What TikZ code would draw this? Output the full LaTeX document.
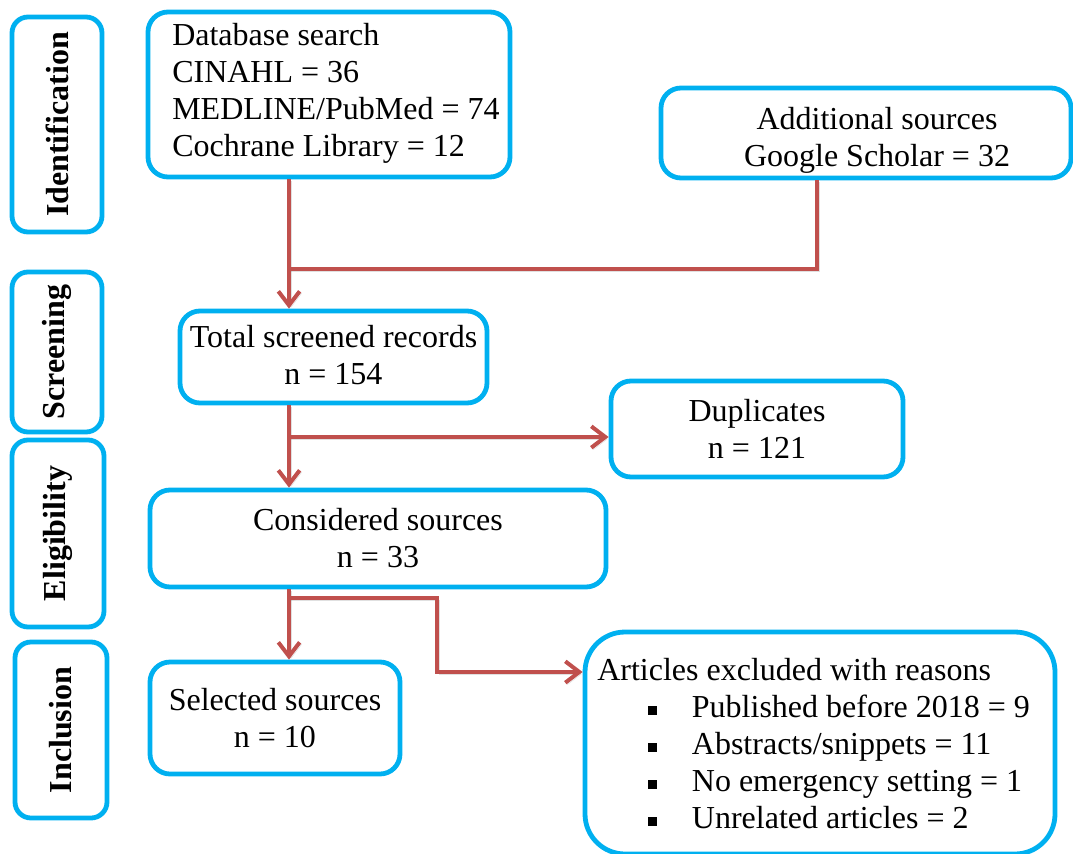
\documentclass[tikz,border=0pt]{standalone}
\usepackage{fontspec}
\setmainfont{Liberation Serif}
\usetikzlibrary{arrows.meta}
\definecolor{boxblue}{HTML}{00B0F0}
\definecolor{linkred}{HTML}{C0504D}
\newcommand{\flowfont}{\fontsize{24pt}{27.75pt}\selectfont}
\newcommand{\exclitem}[1]{\hspace*{38pt}\rule[2.3pt]{7pt}{7pt}\hspace*{26pt}#1}
\tikzset{
  box/.style={draw=boxblue, line width=3.6pt, rounded corners=15pt, fill=white,
    font=\flowfont, align=center, inner sep=0pt},
  boxtext/.style={font=\flowfont, inner sep=0pt},
  stage/.style={box, rounded corners=12pt},
  stagetext/.style={font=\flowfont\bfseries, rotate=90},
  sz/.style 2 args={minimum width=#1*0.75pt, minimum height=#2*0.75pt},
  link/.style={draw=linkred, line width=3pt,
    preaction={draw=black, opacity=0.12, transform canvas={shift={(1.5pt,-1.5pt)}}}},
  flow/.style={link, -{Straight Barb[length=10.5pt, width=16pt]}},
}
\begin{document}
\begin{tikzpicture}[x=0.75pt, y=-0.75pt]
\useasboundingbox (0,0) rectangle (1073,853);

% stage labels on the left
\node[stage, sz={90}{215}] (sid) at (57,124.5) {};
\node[stagetext] (tid) at (sid.center) {Identification};
\node[stage, sz={90}{160}] (ssc) at (57,352) {};
\node[stagetext] (tsc) at (ssc.center) {Screening};
\node[stage, sz={92}{187}] (sel) at (58,533.5) {};
\node[stagetext] (tel) at (sel.center) {Eligibility};
\node[stage, sz={92}{176}] (sin) at (61,730) {};
\node[stagetext] (tin) at (sin.center) {Inclusion};

% flow boxes
\node[box, sz={362}{165}] (db) at (329,94.5) {};
\node[boxtext, align=left, anchor=west] (dbtext) at (172,93)
  {Database search\\CINAHL = 36\\MEDLINE/PubMed = 74\\Cochrane Library = 12};
\node[box, sz={410}{90}] (add) at (866,133) {};
\node[boxtext, align=center] (addtext) at (877,140)
  {Additional sources\\Google Scholar = 32};
\node[box, sz={307}{92}] (tsr) at (333.5,357) {};
\node[boxtext, align=center] (tsrtext) at (333.5,355) {Total screened records\\n = 154};
\node[box, sz={292}{96}] (dup) at (757,429) {Duplicates\\n = 121};
\node[box, sz={456}{97}] (cons) at (378,538.5) {Considered sources\\n = 33};
\node[box, sz={250}{112}] (selsrc) at (275,718) {Selected sources\\n = 10};
\node[box, sz={470}{222}, rounded corners=30pt] (excl) at (820,743) {};
\node[boxtext, align=left, anchor=west] (excltext) at (597,744)
  {Articles excluded with reasons\\
   \exclitem{Published before 2018 = 9}\\
   \exclitem{Abstracts/snippets = 11}\\
   \exclitem{No emergency setting = 1}\\
   \exclitem{Unrelated articles = 2}};

% junction points of the connectors
\coordinate (j1) at (289,269);
\coordinate (j2) at (817,269);
\coordinate (j3) at (289,437);
\coordinate (j4) at (289,598);
\coordinate (j5) at (437,598);
\coordinate (j6) at (437,672);

% connectors
\draw[flow] (db.south -| j1) -- (tsr.north -| j1);
\draw[link] (add.south -| j2) -- (j2) -- (j1);
\draw[flow] (tsr.south -| j1) -- (cons.north -| j1);
\draw[flow] (j3) -- (dup.west |- j3);
\draw[flow] (cons.south -| j1) -- (selsrc.north -| j1);
\draw[flow] (j4) -- (j5) -- (j6) -- (excl.west |- j6);
\end{tikzpicture}
\end{document}
